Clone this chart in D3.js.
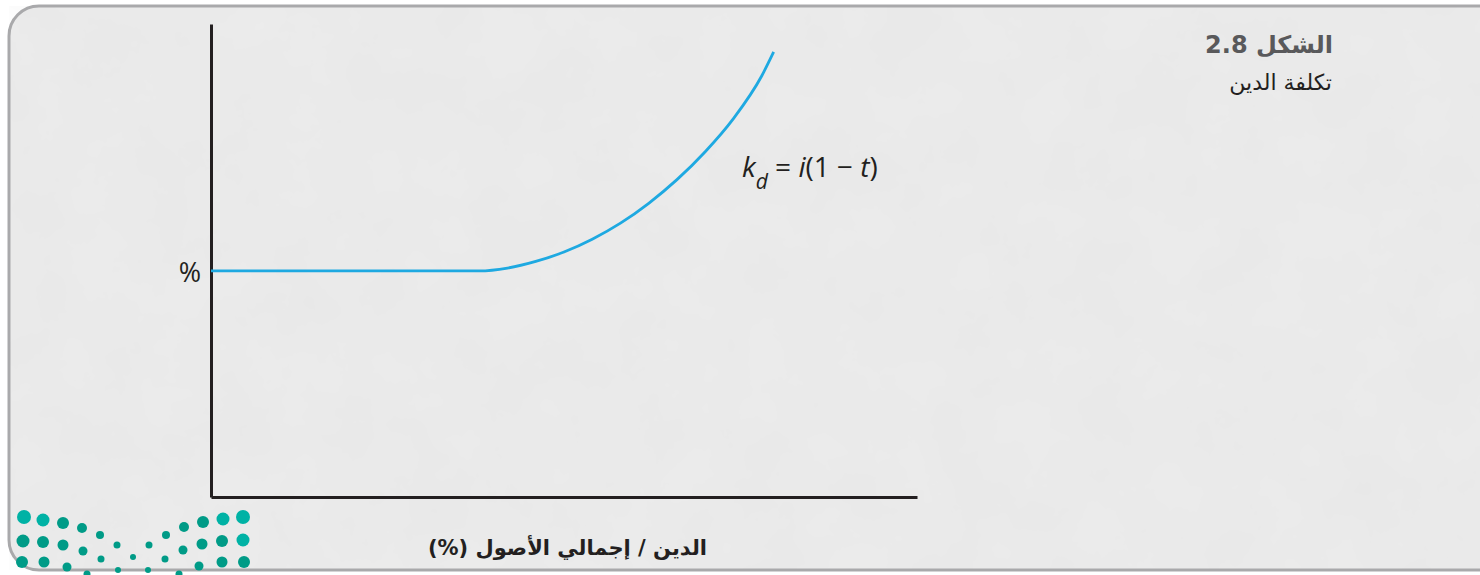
<!DOCTYPE html>
<html>
<head>
<meta charset="utf-8">
<script src="https://cdn.jsdelivr.net/npm/d3@7"></script>
<style>
  body { margin: 0; background: #fff; }
  svg { display: block; }
</style>
</head>
<body>
<div id="chart"></div>
<script>
// cost of debt curve (0-100 on both axes)
var debtRatio  = [0, 10, 20, 30, 38, 42, 46, 50, 54, 58, 62, 66, 70, 74, 78, 79.7];
var costOfDebt = [47.8, 47.8, 47.8, 47.8, 47.8, 48.4, 49.8, 51.8, 54.5, 57.9, 62.1, 67.1, 73.0, 80.0, 89.0, 94.1];

var titleText = 'الشكل 2.8';
var subtitleText = 'تكلفة الدين';
var xLabel = 'الدين / إجمالي الأصول (%)';
var yLabel = '%';

// logo dots (decoration): [x, y, r, dark]
var logoDots = [
  [24,517,7,0],[43,520,6.5,0],[63,523,6,1],[82,528,5,1],[100,535,4,1],
  [166,535,4,1],[184,527,5,1],[203,522,6,1],[223,519,6.5,0],[243,517,7,0],
  [23,541,6.5,1],[43,542,6,1],[63,545,5.5,1],[83,551,4.5,1],[117,545,3.5,1],
  [149,545,3.5,1],[183,550,4.5,1],[202,544,5.5,1],[222,541,6,1],[243,540,6.5,0],
  [22,562,6,1],[44,562,5.5,1],[67,567,4.5,1],[101,559,3.5,1],[133,557,3,1],
  [165,559,3.5,1],[199,566,4.5,1],[222,562,5.5,1],[244,562,6,1],
  [87,574,3.5,1],[118,570,3,1],[148,570,3,1],[179,574,3.5,1]
];

var W = 1480, H = 575;
var svg = d3.select('#chart').append('svg').attr('width', W).attr('height', H);

var defs = svg.append('defs');
var filt = defs.append('filter').attr('id', 'concrete').attr('x', 0).attr('y', 0).attr('width', '100%').attr('height', '100%');
filt.append('feTurbulence').attr('type', 'fractalNoise').attr('baseFrequency', 0.015).attr('numOctaves', 5).attr('seed', 7);
filt.append('feColorMatrix').attr('type', 'matrix')
  .attr('values', '0 0 0 0 0.55  0 0 0 0 0.55  0 0 0 0 0.55  0 0 0 0.10 0');

// frame
svg.append('rect')
  .attr('x', 9).attr('y', 6).attr('width', 1520).attr('height', 564)
  .attr('rx', 30)
  .attr('fill', '#ececec');
svg.append('rect')
  .attr('x', 9).attr('y', 6).attr('width', 1520).attr('height', 564)
  .attr('rx', 30)
  .attr('filter', 'url(#concrete)');
svg.append('rect')
  .attr('x', 9).attr('y', 6).attr('width', 1520).attr('height', 564)
  .attr('rx', 30)
  .attr('fill', 'none').attr('stroke', '#a9a9ab').attr('stroke-width', 3);

// scales
var x = d3.scaleLinear().domain([0, 100]).range([211, 917]);
var y = d3.scaleLinear().domain([0, 100]).range([497, 24]);

var g = svg.append('g');

// axes without ticks
g.append('g')
  .attr('transform', 'translate(0,' + y(0) + ')')
  .call(d3.axisBottom(x).ticks(0).tickSize(0).tickFormat(''))
  .call(function(a) { a.select('.domain').attr('stroke', '#231f20').attr('stroke-width', 3); });
g.append('g')
  .attr('transform', 'translate(' + x(0) + ',0)')
  .call(d3.axisLeft(y).ticks(0).tickSize(0).tickFormat(''))
  .call(function(a) { a.select('.domain').attr('stroke', '#231f20').attr('stroke-width', 3); });

// curve
var pts = debtRatio.map(function(d, i) { return [d, costOfDebt[i]]; });
var line = d3.line()
  .x(function(d) { return x(d[0]); })
  .y(function(d) { return y(d[1]); })
  .curve(d3.curveMonotoneX);

g.append('path')
  .datum(pts)
  .attr('d', line)
  .attr('fill', 'none')
  .attr('stroke', '#1ea9e1')
  .attr('stroke-width', 2.8);

// y label "%"
g.append('text')
  .attr('x', 201).attr('y', 282)
  .attr('text-anchor', 'end')
  .attr('font-family', 'Open Sans, Noto Sans, sans-serif')
  .attr('font-size', 27)
  .attr('fill', '#231f20')
  .text(yLabel);

// formula
var f = g.append('text')
  .attr('x', 742).attr('y', 177)
  .attr('font-family', 'Open Sans, Noto Sans, sans-serif')
  .attr('font-size', 28)
  .attr('fill', '#231f20');
f.append('tspan').attr('font-style', 'italic').text('k');
f.append('tspan').attr('font-style', 'italic').attr('font-size', 21).attr('dy', 12).text('d');
f.append('tspan').attr('dy', -12).text(' = ');
f.append('tspan').attr('font-style', 'italic').text('i');
f.append('tspan').text('(1 − ');
f.append('tspan').attr('font-style', 'italic').text('t');
f.append('tspan').text(')');

// title
svg.append('text')
  .attr('x', 1333).attr('y', 53)
  .attr('direction', 'rtl')
  .attr('text-anchor', 'start')
  .attr('font-family', 'DejaVu Sans, sans-serif')
  .attr('font-size', 24)
  .attr('font-weight', 'bold')
  .attr('fill', '#59595b')
  .text(titleText);
svg.append('text')
  .attr('x', 1332).attr('y', 90)
  .attr('direction', 'rtl')
  .attr('text-anchor', 'start')
  .attr('font-family', 'DejaVu Sans, sans-serif')
  .attr('font-size', 22)
  .attr('fill', '#231f20')
  .text(subtitleText);

// x label
svg.append('text')
  .attr('x', 707).attr('y', 555)
  .attr('direction', 'rtl')
  .attr('text-anchor', 'start')
  .attr('font-family', 'DejaVu Sans, sans-serif')
  .attr('font-size', 21)
  .attr('font-weight', 'bold')
  .attr('fill', '#231f20')
  .text(xLabel);

// logo
svg.append('g').selectAll('circle')
  .data(logoDots)
  .enter().append('circle')
  .attr('cx', function(d) { return d[0]; })
  .attr('cy', function(d) { return d[1]; })
  .attr('r', function(d) { return d[2]; })
  .attr('fill', function(d) { return d[3] ? '#009b87' : '#00b2a5'; });
</script>
</body>
</html>
